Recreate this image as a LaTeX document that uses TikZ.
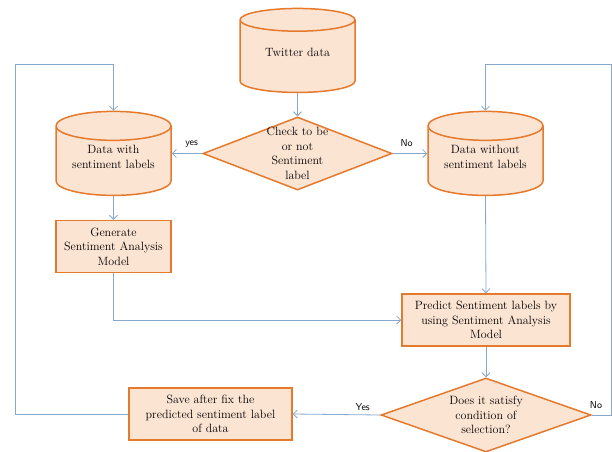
\documentclass[tikz,border=0pt]{standalone}
\usepackage{tikz}
\usetikzlibrary{arrows.meta,positioning,shapes.geometric}
\definecolor{cOrange}{HTML}{E5792C}
\definecolor{cPeach}{HTML}{FCE4D3}
\definecolor{cLine}{HTML}{86A8CC}
% text of a store, set a little above the node centre
\newcommand{\storelines}[1]{\raisebox{3pt}[\height][\depth]{\begin{tabular}{@{}c@{}}#1\end{tabular}}}

\tikzset{
  boxtext/.style={align=center, font=\fontsize{12}{14.5}\selectfont},
  base/.style={draw=cOrange, fill=cPeach, line width=1.5pt, boxtext, inner sep=0pt},
  datastore/.style={base, cylinder, shape border rotate=90, shape aspect=0.35,
    minimum width=115pt, minimum height=84pt},
  process/.style={base, rectangle, minimum height=52pt},
  decision/.style={base, diamond, aspect=2.6},
  flow/.style={->, draw=cLine, line width=0.8pt},
  branch/.style={font=\sffamily\fontsize{10}{12}\selectfont, inner sep=1pt},
}

\begin{document}
\begin{tikzpicture}[x=1pt, y=-1pt, >={Straight Barb[length=4pt,width=8pt]}]
    \useasboundingbox (0,0) rectangle (612,451);
    % stores
    \node[datastore] (twitter) at (297.5,56.5) {\storelines{Twitter data}};
    \node[datastore] (with)    at (113.5,161) {\storelines{Data with\\sentiment labels}};
    \node[datastore] (without) at (485.5,161) {\storelines{Data without\\sentiment labels}};
    % decisions
    \node[decision, minimum width=189pt, minimum height=73pt] (check) at (297.5,153.5) {};
    \node[decision, minimum width=210pt, minimum height=74pt] (does) at (486,415) {};
    % texts of the decisions, set over the shapes
    \node[boxtext] (checktext) at (check.center) {Check to be\\or not\\Sentiment\\label};
    \node[boxtext] (doestext) at (does.center) {Does it satisfy\\condition of\\selection?};
    % processes
    \node[process, minimum width=115pt] (generate) at (113.5,246.5)
      {Generate\\Sentiment Analysis\\Model};
    \node[process, minimum width=168pt] (predict) at (486,320)
      {Predict Sentiment labels by\\using Sentiment Analysis\\Model};
    \node[process, minimum width=163pt] (save) at (210.5,414)
      {Save after fix the\\predicted sentiment label\\of data};
    % loop corners
    \coordinate (loopL) at (15,64);
    \coordinate (loopR) at (611,64);
    % connectors
    \draw[flow] (twitter.south) -- (check.north);
    \draw[flow] (check.west) -- node[branch, above=5pt, pos=0.35]{yes} (with.east |- check.west);
    \draw[flow] (check.east) -- node[branch, above=5pt, pos=0.4]{No} (without.west |- check.east);
    \draw[flow] (with.south) -- (generate.north);
    \draw[flow] (without.south) -- (predict.north);
    \draw[flow] (generate.south) |- (predict.west);
    \draw[flow] (predict.south) -- (does.north);
    \draw[flow] (does.west) -- node[branch, above=3pt, pos=0.2]{Yes} (save.east);
    \draw[flow] (save.west) -| (loopL) -| (with.north);
    \draw[flow] (does.east) -| (loopR) -| (without.north);
    \node[branch] (nolabel) at (596,405) {No};
\end{tikzpicture}
\end{document}
